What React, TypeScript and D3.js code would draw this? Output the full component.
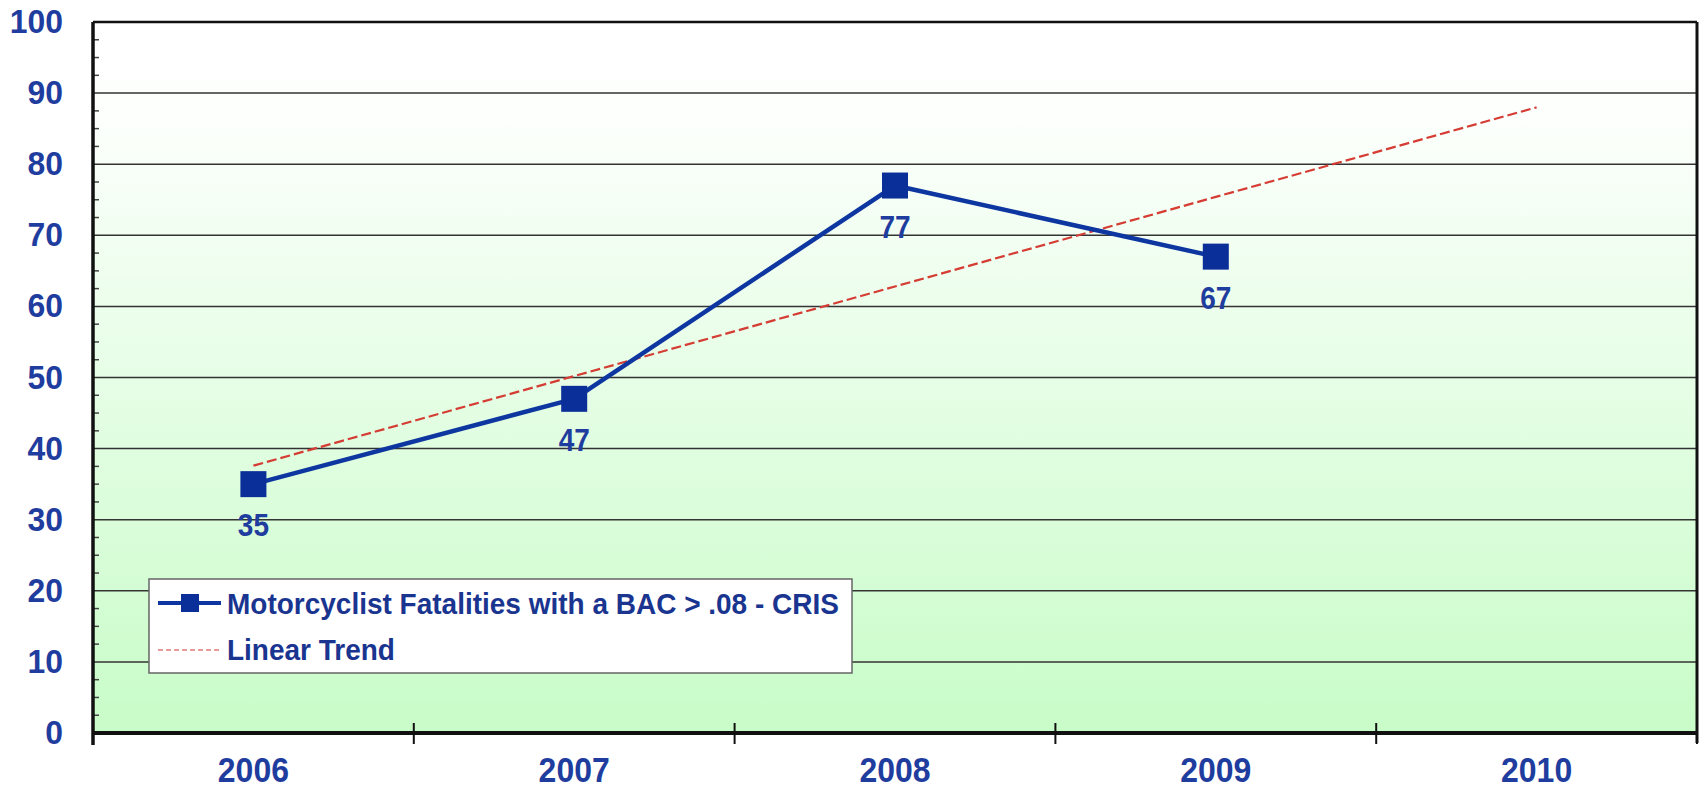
import React from 'react'
import * as d3 from 'd3'

const years = ['2006', '2007', '2008', '2009', '2010']
const fatalities = [35, 47, 77, 67]
const trendValues = [37.6, 50.2, 62.8, 75.4, 88]
const yTicks = [0, 10, 20, 30, 40, 50, 60, 70, 80, 90, 100]
const seriesName = 'Motorcyclist Fatalities with a BAC > .08 - CRIS'
const trendName = 'Linear Trend'

const W = 1704
const H = 790
const left = 93
const right = 1697
const top = 22
const bottom = 733

const blue = '#0d36a0'
const labelBlue = '#1f3d9e'
const font = '"Liberation Sans", Arial, sans-serif'

export default function App() {
  const x = d3.scaleBand<string>().domain(years).range([left, right]).padding(0)
  const y = d3.scaleLinear().domain([0, 100]).range([bottom, top])
  const cx = (yr: string) => (x(yr) as number) + x.bandwidth() / 2

  const line = d3.line<number>()
    .x((_, i) => cx(years[i]))
    .y(d => y(d))

  const minor = d3.range(0, 100.01, 2.5).filter(v => v % 10 !== 0)
  const bounds = years.map(yr => x(yr) as number).concat([right])
  const mk = 26

  return (
    <svg width={W} height={H} style={{ position: 'absolute', left: 0, top: 0, background: '#fff' }}>
      <defs>
        <linearGradient id="bg" x1="0" y1="0" x2="0" y2="1">
          <stop offset="0" stopColor="#ffffff" />
          <stop offset="0.12" stopColor="#fdfffd" />
          <stop offset="1" stopColor="#c8fcc8" />
        </linearGradient>
      </defs>

      <rect x={left} y={top} width={right - left} height={bottom - top} fill="url(#bg)" />

      {/* grid lines */}
      {yTicks.filter(t => t > 0 && t < 100).map(t => (
        <line key={t} x1={left} x2={right} y1={y(t)} y2={y(t)} stroke="#333" strokeWidth={1.5} />
      ))}

      {/* minor ticks */}
      {minor.map(t => (
        <line key={'m' + t} x1={left} x2={left + 6} y1={y(t)} y2={y(t)} stroke="#444" strokeWidth={1.5} />
      ))}

      {/* frame */}
      <line x1={left} x2={right} y1={top} y2={top} stroke="#111" strokeWidth={2.5} />
      <line x1={right} x2={right} y1={top} y2={bottom + 10} stroke="#111" strokeWidth={3} />
      <line x1={left} x2={left} y1={top} y2={bottom + 12} stroke="#111" strokeWidth={3.5} />
      <line x1={left} x2={right} y1={bottom} y2={bottom} stroke="#111" strokeWidth={4} />
      {bounds.map((b, i) => (
        <line key={'xt' + i} x1={b} x2={b} y1={bottom - 10} y2={bottom + 11} stroke="#111" strokeWidth={2} />
      ))}

      {/* y labels */}
      {yTicks.map(t => (
        <text key={'yl' + t} transform={`translate(63,${y(t) + 11}) scale(1.03,1.06)`} textAnchor="end"
          fontFamily={font} fontWeight="bold" fontSize={31} fill={labelBlue}>{t}</text>
      ))}

      {/* x labels */}
      {years.map(yr => (
        <text key={'xl' + yr} transform={`translate(${cx(yr)},${782}) scale(1,1.12)`} textAnchor="middle"
          fontFamily={font} fontWeight="bold" fontSize={32} fill={labelBlue}>{yr}</text>
      ))}

      {/* trend */}
      <path d={line(trendValues) || ''} fill="none" stroke="#d43c34" strokeWidth={2.2}
        strokeDasharray="10 4" />

      {/* series */}
      <path d={line(fatalities) || ''} fill="none" stroke={blue} strokeWidth={4.5} strokeLinejoin="round" />
      {fatalities.map((v, i) => (
        <g key={'p' + i}>
          <rect x={cx(years[i]) - mk / 2} y={y(v) - mk / 2} width={mk} height={mk} fill="#0a2f98" />
          <text transform={`translate(${cx(years[i])},${y(v) + 52}) scale(1,1.1)`} textAnchor="middle"
            fontFamily={font} fontWeight="bold" fontSize={28} fill={labelBlue}>{v}</text>
        </g>
      ))}

      {/* legend */}
      <g>
        <rect x={149} y={579} width={703} height={94} fill="#fff" stroke="#666" strokeWidth={1.5} />
        <line x1={158} x2={221} y1={603} y2={603} stroke={blue} strokeWidth={4} />
        <rect x={181} y={594} width={18} height={18} fill="#0a2f98" />
        <text transform="translate(227,614) scale(1,1.08)" fontFamily={font} fontWeight="bold" fontSize={28}
          fill="#1a3590">{seriesName}</text>
        <line x1={158} x2={219} y1={650} y2={650} stroke="#e07a7a" strokeWidth={1.5} strokeDasharray="5 3" />
        <text transform="translate(227,660) scale(1,1.08)" fontFamily={font} fontWeight="bold" fontSize={28}
          fill="#1a3590">{trendName}</text>
      </g>
    </svg>
  )
}
